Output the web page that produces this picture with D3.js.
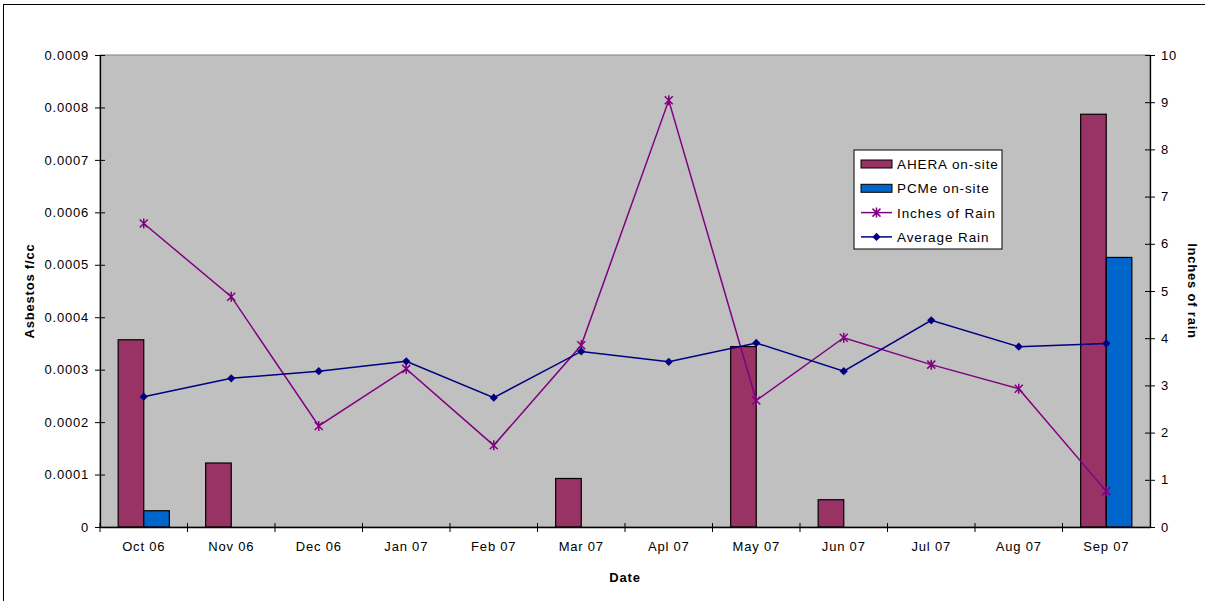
<!DOCTYPE html>
<html>
<head>
<meta charset="utf-8">
<script src="https://cdn.jsdelivr.net/npm/d3@7"></script>
<style>
  body { margin: 0; background: #fff; }
  text { font-family: "Liberation Sans", Arial, sans-serif; fill: #000; }
</style>
</head>
<body>
<svg id="chart" width="1205" height="601"></svg>
<script>
const months = ["Oct 06", "Nov 06", "Dec 06", "Jan 07", "Feb 07", "Mar 07", "Apl 07", "May 07", "Jun 07", "Jul 07", "Aug 07", "Sep 07"];
const aheraOnSite = [0.000357, 0.000122, 0, 0, 0, 0.0000925, 0, 0.000344, 0.000052, 0, 0, 0.000787];
const pcmeOnSite = [0.000031, 0, 0, 0, 0, 0, 0, 0, 0, 0, 0, 0.000514];
const inchesOfRain = [6.43, 4.88, 2.14, 3.35, 1.73, 3.85, 9.04, 2.68, 4.01, 3.44, 2.93, 0.76];
const averageRain = [2.76, 3.15, 3.30, 3.51, 2.74, 3.72, 3.50, 3.90, 3.30, 4.38, 3.82, 3.89];
const leftTicks = [0, 0.0001, 0.0002, 0.0003, 0.0004, 0.0005, 0.0006, 0.0007, 0.0008, 0.0009];
const rightTicks = [0, 1, 2, 3, 4, 5, 6, 7, 8, 9, 10];

const barColors = { ahera: "#993366", pcme: "#0066CC" };
const rainColor = "#800080";
const avgColor = "#000080";

const margin = { top: 55, right: 55, bottom: 74, left: 100 };
const W = 1205, H = 601;
const width = W - margin.left - margin.right;
const height = H - margin.top - margin.bottom;

const svg = d3.select("#chart");

// outer frame
svg.append("rect")
  .attr("x", 3.5).attr("y", 4.5)
  .attr("width", W + 10).attr("height", H + 10)
  .attr("fill", "#fff").attr("stroke", "#000").attr("stroke-width", 1);

const g = svg.append("g").attr("transform", `translate(${margin.left},${margin.top})`);

const x = d3.scaleBand().domain(months).range([0, width]).paddingInner(0).paddingOuter(0);
const xSub = d3.scaleBand().domain(["ahera", "pcme"]).range([0, x.bandwidth()]).paddingInner(0).paddingOuter(0.71);
const yLeft = d3.scaleLinear().domain([0, 0.0009]).range([height, 0]);
const yRight = d3.scaleLinear().domain([0, 10]).range([height, 0]);

// plot area
g.append("rect")
  .attr("width", width).attr("height", height)
  .attr("fill", "#C0C0C0").attr("stroke", "#808080").attr("stroke-width", 1);

// bars
const bars = months.map((m, i) => ({ m, ahera: aheraOnSite[i], pcme: pcmeOnSite[i] }));
const grp = g.selectAll(".grp").data(bars).join("g")
  .attr("transform", d => `translate(${x(d.m)},0)`);
grp.selectAll("rect")
  .data(d => ["ahera", "pcme"].map(k => ({ k, v: d[k] })).filter(e => e.v > 0))
  .join("rect")
  .attr("x", e => xSub(e.k))
  .attr("width", xSub.bandwidth())
  .attr("y", e => yLeft(e.v))
  .attr("height", e => height - yLeft(e.v))
  .attr("fill", e => barColors[e.k])
  .attr("stroke", "#000").attr("stroke-width", 1.2);

// axes
const fmtLeft = d => d === 0 ? "0" : d3.format(".4f")(d);
const leftAxis = d3.axisLeft(yLeft).tickValues(leftTicks).tickFormat(fmtLeft).tickSizeInner(5).tickSizeOuter(0).tickPadding(6);
const la = g.append("g").attr("class", "axis").call(leftAxis);
la.selectAll(".tick line").attr("x2", 5).attr("x1", -5);

const rightAxis = d3.axisRight(yRight).tickValues(rightTicks).tickSizeInner(5).tickSizeOuter(0).tickPadding(6);
const ra = g.append("g").attr("class", "axis").attr("transform", `translate(${width},0)`).call(rightAxis);
ra.selectAll(".tick line").attr("x1", -5).attr("x2", 5);

const bottomAxis = d3.axisBottom(x).tickSize(0).tickPadding(15);
const ba = g.append("g").attr("class", "axis").attr("transform", `translate(0,${height})`).call(bottomAxis);
// category separators
ba.selectAll(".sep").data(months.slice(1)).join("line")
  .attr("x1", d => x(d)).attr("x2", d => x(d))
  .attr("y1", -4).attr("y2", 5).attr("stroke", "#000");
ba.append("line").attr("x1", 0).attr("x2", 0).attr("y1", -4).attr("y2", 5).attr("stroke", "#000");

svg.selectAll(".axis path").attr("stroke", "#000").attr("stroke-width", 1.3);
svg.selectAll(".axis .tick line").attr("stroke", "#000");
svg.selectAll(".axis text")
  .attr("font-family", "Liberation Sans, Arial, sans-serif")
  .attr("font-size", 13).attr("letter-spacing", 0.8).attr("fill", "#000");

// lines
const cx = m => x(m) + x.bandwidth() / 2;
const rainLine = d3.line().x((d, i) => cx(months[i])).y(d => yRight(d));

g.append("path").datum(inchesOfRain)
  .attr("d", rainLine).attr("fill", "none").attr("stroke", rainColor).attr("stroke-width", 1.5);
g.append("path").datum(averageRain)
  .attr("d", rainLine).attr("fill", "none").attr("stroke", avgColor).attr("stroke-width", 1.5);

const starPath = "M-4,-4L4,4M-4,4L4,-4M0,-5L0,5";
const diamond = d3.symbol().type(d3.symbolSquare).size(34);

g.selectAll(".star").data(inchesOfRain).join("path")
  .attr("transform", (d, i) => `translate(${cx(months[i])},${yRight(d)})`)
  .attr("d", starPath).attr("stroke", rainColor).attr("stroke-width", 1.5).attr("fill", "none");
g.selectAll(".dia").data(averageRain).join("path")
  .attr("transform", (d, i) => `translate(${cx(months[i])},${yRight(d)}) rotate(45)`)
  .attr("d", diamond).attr("fill", avgColor);

// axis titles
svg.append("text")
  .attr("transform", `translate(34,${margin.top + height / 2}) rotate(-90)`)
  .attr("text-anchor", "middle").attr("font-size", 13).attr("font-weight", "bold").attr("letter-spacing", 0.8)
  .text("Asbestos f/cc");
svg.append("text")
  .attr("transform", `translate(1188,${margin.top + height / 2}) rotate(90)`)
  .attr("text-anchor", "middle").attr("font-size", 13).attr("font-weight", "bold").attr("letter-spacing", 0.8)
  .text("Inches of rain");
svg.append("text")
  .attr("x", margin.left + width / 2).attr("y", 582)
  .attr("text-anchor", "middle").attr("font-size", 13).attr("font-weight", "bold").attr("letter-spacing", 0.8)
  .text("Date");

// legend
const legendItems = [
  { name: "AHERA on-site", type: "bar", color: barColors.ahera },
  { name: "PCMe on-site", type: "bar", color: barColors.pcme },
  { name: "Inches of Rain", type: "star", color: rainColor },
  { name: "Average Rain", type: "diamond", color: avgColor }
];
const lg = svg.append("g").attr("transform", "translate(854,150)");
lg.append("rect").attr("width", 148).attr("height", 99)
  .attr("fill", "#fff").attr("stroke", "#000").attr("stroke-width", 1);
const li = lg.selectAll(".li").data(legendItems).join("g")
  .attr("transform", (d, i) => `translate(0,${14 + i * 24.3})`);
li.filter(d => d.type === "bar").append("rect")
  .attr("x", 7).attr("y", -4).attr("width", 31).attr("height", 8)
  .attr("fill", d => d.color).attr("stroke", "#000").attr("stroke-width", 1);
li.filter(d => d.type !== "bar").append("line")
  .attr("x1", 7).attr("x2", 38).attr("stroke", d => d.color).attr("stroke-width", 1.5);
li.filter(d => d.type === "star").append("path")
  .attr("transform", "translate(22.5,0)").attr("d", starPath)
  .attr("stroke", d => d.color).attr("stroke-width", 1.5).attr("fill", "none");
li.filter(d => d.type === "diamond").append("path")
  .attr("transform", "translate(22.5,0) rotate(45)").attr("d", diamond).attr("fill", d => d.color);
li.append("text")
  .attr("x", 43).attr("y", 5)
  .attr("font-size", 13.5).attr("letter-spacing", 0.9)
  .text(d => d.name);
</script>
</body>
</html>
